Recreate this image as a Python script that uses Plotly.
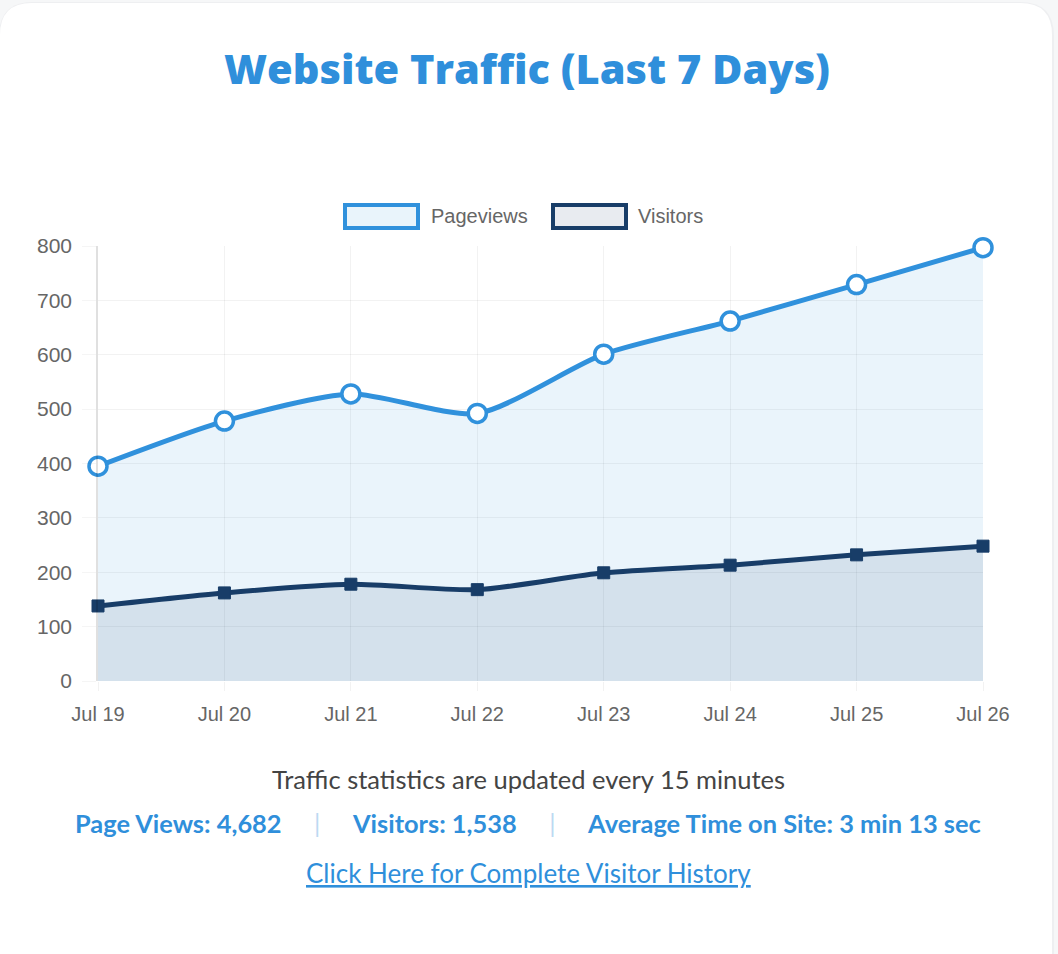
import plotly.graph_objects as go

dates = ["Jul 19", "Jul 20", "Jul 21", "Jul 22", "Jul 23", "Jul 24", "Jul 25", "Jul 26"]
pageviews = [395, 478, 528, 492, 601, 662, 729, 797]
visitors = [138, 162, 178, 168, 199, 213, 232, 248]
y_ticks = [0, 100, 200, 300, 400, 500, 600, 700, 800]
avg_time = "3 min 13 sec"

W, H = 1058, 954
L, R, T, B = 98, 983, 246, 681  # plot area in px


def px(x):
    return (x - L) / (R - L)


def py(y):
    return (B - y) / (B - T)


BLUE = "#3091dc"
NAVY = "#183d68"
PAGE_BG = "#f6f7f8"

fig = go.Figure()
fig.add_trace(go.Scatter(
    x=dates, y=pageviews, name="Pageviews", mode="lines+markers",
    line=dict(color=BLUE, width=5, shape="spline", smoothing=0.7),
    marker=dict(symbol="circle", size=18, color="white", line=dict(color=BLUE, width=3.5)),
    fill="tozeroy", fillcolor="rgba(52,152,219,0.10)", cliponaxis=False, showlegend=False))
fig.add_trace(go.Scatter(
    x=dates, y=visitors, name="Visitors", mode="lines+markers",
    line=dict(color=NAVY, width=5, shape="spline", smoothing=0.7),
    marker=dict(symbol="square", size=12, color=NAVY, line=dict(color=NAVY, width=1)),
    fill="tozeroy", fillcolor="rgba(24,61,104,0.10)", cliponaxis=False, showlegend=False))


def rrect(x0, y0, x1, y1, r):
    pts = []
    pts.append(f"M{px(x0 + r)},{py(y0)}")
    pts.append(f"L{px(x1 - r)},{py(y0)}")
    pts.append(f"Q{px(x1)},{py(y0)} {px(x1)},{py(y0 + r)}")
    pts.append(f"L{px(x1)},{py(y1 - r)}")
    pts.append(f"Q{px(x1)},{py(y1)} {px(x1 - r)},{py(y1)}")
    pts.append(f"L{px(x0 + r)},{py(y1)}")
    pts.append(f"Q{px(x0)},{py(y1)} {px(x0)},{py(y1 - r)}")
    pts.append(f"L{px(x0)},{py(y0 + r)}")
    pts.append(f"Q{px(x0)},{py(y0)} {px(x0 + r)},{py(y0)}Z")
    return " ".join(pts)


shapes = [
    dict(type="path", xref="paper", yref="paper", layer="below",
         path=rrect(-1, 2, 1054, 990, 34), fillcolor="#eeeff1", line=dict(width=0)),
    dict(type="path", xref="paper", yref="paper", layer="below",
         path=rrect(0, 3, 1052, 985, 32), fillcolor="white", line=dict(width=0)),
    # legend boxes
    dict(type="rect", xref="paper", yref="paper", x0=px(345), x1=px(418), y0=py(205), y1=py(228),
         fillcolor="#e9f4fb", line=dict(color=BLUE, width=4)),
    dict(type="rect", xref="paper", yref="paper", x0=px(553), x1=px(626), y0=py(205), y1=py(228),
         fillcolor="#e8ebf0", line=dict(color=NAVY, width=4)),
]

sep = "<span style='color:#bcd9f2'>|</span>"
stats = (f"<b>Page Views: {sum(pageviews):,}</b>     {sep}     "
         f"<b>Visitors: {sum(visitors):,}</b>     {sep}     "
         f"<b>Average Time on Site: {avg_time}</b>")

annotations = [
    dict(text="Website Traffic (Last 7 Days)", x=px(527), y=py(68), xref="paper", yref="paper",
         showarrow=False, xanchor="center", yanchor="middle",
         font=dict(family="Open Sans", size=41.5, color="#2f8fdb", weight=800)),
    dict(text="Pageviews", x=px(429), y=py(216), xref="paper", yref="paper", showarrow=False,
         xanchor="left", yanchor="middle", font=dict(family="Liberation Sans, Arial", size=20, color="#666")),
    dict(text="Visitors", x=px(636), y=py(216), xref="paper", yref="paper", showarrow=False,
         xanchor="left", yanchor="middle", font=dict(family="Liberation Sans, Arial", size=20, color="#666")),
    dict(text="Traffic statistics are updated every 15 minutes", x=px(528), y=py(779),
         xref="paper", yref="paper", showarrow=False, xanchor="center", yanchor="middle",
         font=dict(family="Lato", size=25.5, color="#444")),
    dict(text=stats, x=px(528), y=py(823), xref="paper", yref="paper", showarrow=False,
         xanchor="center", yanchor="middle", font=dict(family="Lato", size=25.4, color="#2f8fdb")),
    dict(text="Click Here for Complete Visitor History", x=px(528), y=py(873), xref="paper", yref="paper",
         showarrow=False, xanchor="center", yanchor="middle",
         font=dict(family="Lato", size=26, color="#2f8fdb", lineposition="under")),
]

fig.update_layout(
    width=W, height=H,
    margin=dict(l=L, r=W - R, t=T, b=H - B, pad=0),
    paper_bgcolor=PAGE_BG, plot_bgcolor="rgba(0,0,0,0)",
    shapes=shapes, annotations=annotations, showlegend=False,
    font=dict(family="Liberation Sans, Arial", size=20, color="#666"),
)
fig.update_xaxes(
    type="category", range=[0, len(dates) - 1], showgrid=True, gridcolor="rgba(0,0,0,0.05)",
    gridwidth=1, showline=False, zeroline=False, ticks="outside", ticklen=9,
    tickcolor="rgba(0,0,0,0.05)", tickfont=dict(size=20, color="#666"), ticklabelstandoff=6,
)
fig.update_yaxes(
    range=[0, 800], tickvals=y_ticks, showgrid=True, gridcolor="rgba(0,0,0,0.05)", gridwidth=1,
    showline=True, linecolor="rgba(0,0,0,0.12)", linewidth=1.5, zeroline=False,
    ticks="outside", ticklen=14, tickcolor="rgba(0,0,0,0.04)",
    tickfont=dict(size=21, color="#666"), ticklabelstandoff=6,
)

fig.write_html("out.html")
